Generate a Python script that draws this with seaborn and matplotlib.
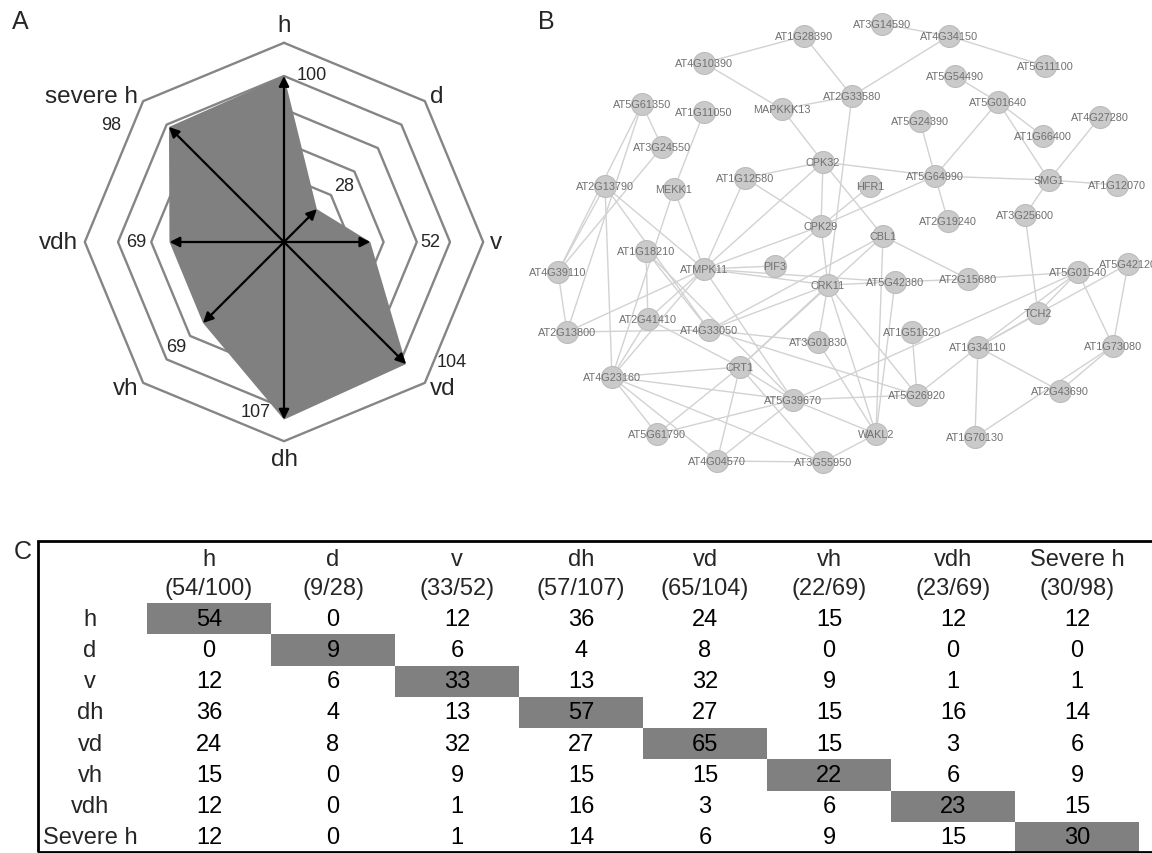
import numpy as np
import pandas as pd
import matplotlib
matplotlib.use("Agg")
import matplotlib.pyplot as plt
from matplotlib.colors import ListedColormap
from matplotlib.patches import Polygon, Rectangle
import seaborn as sns

# --- panel A : number of genes per stress (radar)
radar_labels = ["h", "d", "v", "vd", "dh", "vh", "vdh", "severe h"]
radar_values = [100, 28, 52, 104, 107, 69, 69, 98]
ring_levels = [40, 60, 80, 100, 120]
# where the count labels sit, in radar units
value_label_x = [17, 36, 88, 101, -17, -65, -89, -104]
value_label_y = [101, 34, 0, -72, -102, -63, 0, 71]

# --- panel B : interaction network (positions, in px)
node_names = [
    "AT1G28390", "AT4G10390", "AT5G61350", "AT1G11050", "MAPKKK13", "AT2G33580",
    "AT3G24550", "CPK32", "AT1G12580", "AT2G13790", "MEKK1", "CPK29",
    "AT3G14590", "AT4G34150", "AT5G11100", "AT5G54490", "AT5G01640", "AT5G24390",
    "AT4G27280", "AT1G66400", "AT5G64990", "HFR1", "SMG1", "AT1G12070",
    "AT3G25600", "AT2G19240", "CBL1", "AT1G18210", "ATMPK11", "PIF3",
    "CRK11", "AT4G39110", "AT2G41410", "AT4G33050", "AT2G13800", "AT3G01830",
    "CRT1", "AT4G23160", "AT5G39670", "AT5G61790", "AT4G04570", "AT3G55950",
    "AT5G42380", "AT2G15680", "AT5G01540", "AT5G42120", "TCH2", "AT1G51620",
    "AT1G34110", "AT1G73080", "AT5G26920", "AT2G43690", "WAKL2", "AT1G70130",
]
node_x = [
    804, 704, 642, 704, 782, 852,
    662, 823, 745, 605, 674, 821,
    882, 949, 1045, 955, 998, 920,
    1100, 1043, 935, 870, 1049, 1117,
    1025, 948, 883, 646, 704, 775,
    828, 558, 648, 709, 567, 818,
    740, 612, 793, 657, 717, 823,
    895, 968, 1078, 1128, 1038, 912,
    978, 1113, 917, 1060, 876, 975,
]
node_y = [
    37, 64, 105, 113, 110, 97,
    148, 163, 179, 187, 190, 227,
    25, 37, 67, 77, 103, 122,
    118, 137, 177, 187, 181, 186,
    216, 222, 237, 252, 270, 267,
    286, 273, 320, 331, 333, 343,
    368, 378, 401, 435, 462, 463,
    283, 280, 273, 265, 314, 333,
    348, 347, 396, 392, 435, 438,
]
edges = [
    ("AT4G10390", "AT1G28390"), ("AT4G10390", "MAPKKK13"), ("AT1G28390", "AT2G33580"),
    ("MAPKKK13", "AT2G33580"), ("MAPKKK13", "CPK32"), ("AT2G33580", "CRK11"),
    ("AT2G33580", "AT4G34150"), ("AT3G14590", "AT4G34150"), ("AT4G34150", "AT5G11100"),
    ("AT5G54490", "AT5G01640"), ("AT5G01640", "AT1G66400"), ("AT5G01640", "SMG1"),
    ("AT5G01640", "AT5G64990"), ("AT5G24390", "AT5G64990"), ("AT4G27280", "SMG1"),
    ("SMG1", "AT1G12070"), ("SMG1", "AT3G25600"), ("AT5G64990", "SMG1"),
    ("AT5G64990", "AT2G19240"), ("CPK32", "AT5G64990"), ("AT5G64990", "CPK29"),
    ("HFR1", "CPK29"), ("CPK32", "AT1G12580"), ("CPK32", "CPK29"),
    ("CPK32", "CBL1"), ("CPK32", "ATMPK11"), ("AT1G12580", "CPK29"),
    ("AT1G12580", "ATMPK11"), ("CPK29", "ATMPK11"), ("CPK29", "PIF3"),
    ("CPK29", "CRK11"), ("AT1G11050", "MEKK1"), ("MEKK1", "ATMPK11"),
    ("MEKK1", "AT4G23160"), ("AT5G61350", "AT3G24550"), ("AT5G61350", "AT4G39110"),
    ("AT5G61350", "AT2G13800"), ("AT3G24550", "AT4G39110"), ("AT2G13790", "AT4G39110"),
    ("AT2G13790", "AT4G23160"), ("AT2G13790", "ATMPK11"), ("AT2G13790", "AT4G33050"),
    ("AT4G39110", "AT2G13800"), ("AT2G13800", "ATMPK11"), ("AT2G13800", "AT4G33050"),
    ("AT1G18210", "AT2G41410"), ("AT1G18210", "AT4G33050"), ("AT1G18210", "AT5G39670"),
    ("AT2G41410", "ATMPK11"), ("AT2G41410", "CRT1"), ("AT2G41410", "AT4G23160"),
    ("AT4G23160", "ATMPK11"), ("AT4G23160", "CRT1"), ("AT4G23160", "AT5G39670"),
    ("AT4G23160", "AT5G61790"), ("AT4G23160", "AT4G04570"), ("AT4G23160", "AT3G55950"),
    ("ATMPK11", "PIF3"), ("ATMPK11", "CRK11"), ("ATMPK11", "AT5G42380"),
    ("ATMPK11", "AT5G39670"), ("CRK11", "AT3G01830"), ("CRK11", "AT4G33050"),
    ("CRK11", "CRT1"), ("CRK11", "AT5G26920"), ("CRK11", "WAKL2"),
    ("CRK11", "AT5G42380"), ("CBL1", "WAKL2"), ("CBL1", "AT2G15680"),
    ("CBL1", "CRT1"), ("CBL1", "AT4G33050"), ("AT5G42380", "AT2G15680"),
    ("AT2G15680", "AT5G01540"), ("AT5G42380", "WAKL2"), ("AT3G01830", "WAKL2"),
    ("AT4G33050", "AT3G01830"), ("AT4G33050", "AT5G26920"), ("CRT1", "AT5G39670"),
    ("CRT1", "AT5G61790"), ("CRT1", "AT4G04570"), ("CRT1", "AT3G55950"),
    ("AT5G39670", "AT5G61790"), ("AT5G39670", "AT4G04570"), ("AT5G39670", "AT5G26920"),
    ("AT5G39670", "WAKL2"), ("AT5G39670", "AT5G01540"), ("AT4G04570", "AT3G55950"),
    ("AT3G55950", "WAKL2"), ("AT1G51620", "AT5G26920"), ("AT5G26920", "AT1G34110"),
    ("AT1G34110", "AT1G70130"), ("AT1G34110", "AT2G43690"), ("AT1G34110", "TCH2"),
    ("AT1G34110", "AT5G01540"), ("AT1G34110", "AT5G42120"), ("AT2G43690", "AT1G73080"),
    ("AT1G70130", "AT1G73080"), ("AT5G01540", "AT1G73080"), ("AT5G42120", "AT1G73080"),
    ("TCH2", "AT3G25600"), ("TCH2", "AT5G01540"),
]

# --- panel C : overlap table
table_cols = ["h", "d", "v", "dh", "vd", "vh", "vdh", "Severe h"]
table_rows = ["h", "d", "v", "dh", "vd", "vh", "vdh", "Severe h"]
col_fractions = ["(54/100)", "(9/28)", "(33/52)", "(57/107)",
                 "(65/104)", "(22/69)", "(23/69)", "(30/98)"]
overlap = [
    [54, 0, 12, 36, 24, 15, 12, 12],
    [0, 9, 6, 4, 8, 0, 0, 0],
    [12, 6, 33, 13, 32, 9, 1, 1],
    [36, 4, 13, 57, 27, 15, 16, 14],
    [24, 8, 32, 27, 65, 15, 3, 6],
    [15, 0, 9, 15, 15, 22, 6, 9],
    [12, 0, 1, 16, 3, 6, 23, 15],
    [12, 0, 1, 14, 6, 9, 15, 30],
]

sns.set_theme(style="white")
plt.rcParams["font.family"] = ["Liberation Sans", "DejaVu Sans"]

W, H = 1152, 854
fig = plt.figure(figsize=(W / 100, H / 100), dpi=100)


def px_axes(x0, y0, w, h):
    # axes from a pixel box given from the top-left corner
    return fig.add_axes([x0 / W, 1 - (y0 + h) / H, w / W, h / H])


# ---------------- A
axA = px_axes(0, 0, 540, 480)
scale = 1.66
cx, cy = 284, 243
axA.set_xlim(-cx / scale, (540 - cx) / scale)
axA.set_ylim(-(480 - cy) / scale, cy / scale)
axA.axis("off")

theta = np.deg2rad(np.arange(len(radar_labels)) * 360 / len(radar_labels))
sx, sy = np.sin(theta), np.cos(theta)
for lvl in ring_levels:
    axA.plot(np.append(lvl * sx, lvl * sx[0]), np.append(lvl * sy, lvl * sy[0]),
             color="#858585", lw=1.7, zorder=1)

vals = np.array(radar_values)
axA.add_patch(Polygon(np.column_stack([vals * sx, vals * sy]), closed=True,
                      fc="#808080", ec="none", zorder=2))
for v, a, b in zip(vals, sx, sy):
    axA.annotate("", xy=(v * a, v * b), xytext=(0, 0), zorder=3,
                 arrowprops=dict(arrowstyle="-|>", color="black", lw=1.6,
                                 mutation_scale=15, shrinkA=0, shrinkB=0))

for lab, a, b in zip(radar_labels, sx, sy):
    ha = "left" if a > 0.1 else ("right" if a < -0.1 else "center")
    va = "bottom" if b > 0.9 else ("top" if b < -0.9 else "center")
    axA.text(124 * a, 124 * b, lab, ha=ha, va=va, fontsize=17.5)

for v, x, y in zip(radar_values, value_label_x, value_label_y):
    axA.text(x, y, str(v), ha="center", va="center", fontsize=13, zorder=4)

# ---------------- B
axB = px_axes(540, 0, 612, 480)
pos = dict(zip(node_names, zip(node_x, node_y)))
for a, b in edges:
    axB.plot([pos[a][0], pos[b][0]], [pos[a][1], pos[b][1]],
             color="#d2d2d2", lw=1.0, zorder=1)
sns.scatterplot(x=node_x, y=node_y, s=250, color="#cacaca", edgecolor="#bcbcbc",
                linewidth=0.8, ax=axB, zorder=2, legend=False)
for n, x, y in zip(node_names, node_x, node_y):
    axB.text(x, y, n, fontsize=7.8, color="#707070", ha="center", va="center", zorder=3)
axB.set_xlim(540, 1152)
axB.set_ylim(480, 0)
axB.axis("off")

# ---------------- C
col_w = 124
axC = px_axes(147, 604, col_w * len(table_cols), 250)
diag = pd.DataFrame(np.eye(len(table_rows)), index=table_rows, columns=table_cols)
sns.heatmap(diag, cmap=ListedColormap(["white", "#808080"]), cbar=False,
            annot=np.array(overlap), fmt="d",
            annot_kws={"fontsize": 17, "color": "black"},
            xticklabels=False, yticklabels=False, ax=axC)
for j, (c, f) in enumerate(zip(table_cols, col_fractions)):
    axC.text(j + 0.5, -1.42, c, ha="center", va="center", fontsize=17, clip_on=False)
    axC.text(j + 0.5, -0.48, f, ha="center", va="center", fontsize=17, clip_on=False)
for i, r in enumerate(table_rows):
    axC.text((90 - 147) / col_w, i + 0.5, r, ha="center", va="center",
             fontsize=17, clip_on=False)

fig.patches.append(Rectangle((38 / W, 1 - 853 / H), (W - 30) / W, (853 - 542) / H,
                             transform=fig.transFigure, figure=fig,
                             fill=False, ec="black", lw=2))

fig.text(12 / W, 1 - 22 / H, "A", fontsize=18, va="center")
fig.text(538 / W, 1 - 22 / H, "B", fontsize=18, va="center")
fig.text(14 / W, 1 - 552 / H, "C", fontsize=18, va="center")

fig.savefig("out.png", dpi=100)
